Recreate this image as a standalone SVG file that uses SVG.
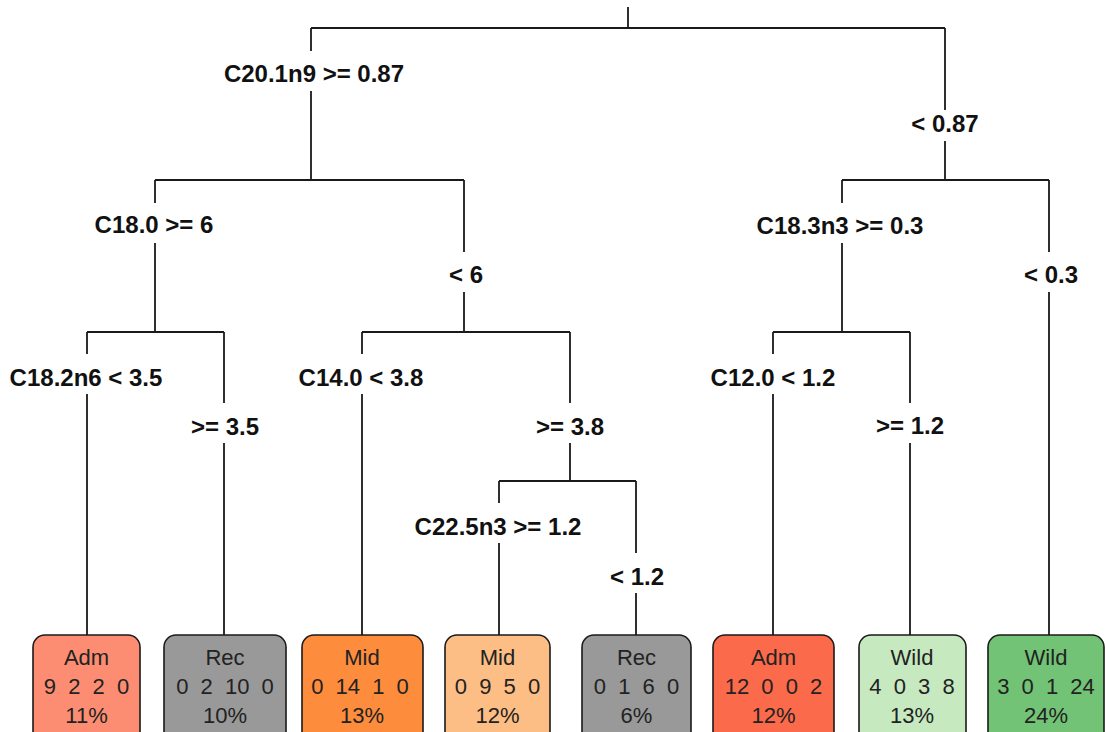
<svg xmlns="http://www.w3.org/2000/svg" width="1105" height="732" viewBox="0 0 1105 732">
<style>
.bg{fill:#ffffff}
.edge{stroke:#1a1a1a;stroke-width:1.8;fill:none}
.lab{font-family:"Liberation Sans",Arial,sans-serif;font-weight:bold;font-size:24px;fill:#111;text-anchor:middle}
.leaf rect{stroke:#1a1a1a;stroke-width:1.6}
.lt{font-family:"Liberation Sans",Arial,sans-serif;font-size:22px;fill:#222;text-anchor:middle}
.cnt{word-spacing:6px}
</style>
<rect class="bg" x="0" y="0" width="1105" height="732"/>
<g id="connectors">
<path class="edge" d="M628,7V28 M311,28H945
M311,28V51 M311,91V180 M945,28V110 M945,141V180
M155,180H464 M842,180H1049
M155,180V203 M155,243V332 M464,180V252 M464,292V332
M842,180V203 M842,243V332 M1049,180V252 M1049,292V635
M87,332H224 M362,332H570 M773,332H910
M87,332V354 M87,394V635 M224,332V403 M224,443V635
M362,332V354 M362,394V635 M570,332V403 M570,443V481
M773,332V354 M773,394V635 M910,332V403 M910,443V635
M499,481H636 M499,481V503 M499,543V635 M636,481V553 M636,593V635"/>
</g>
<g id="labels">
<text class="lab" x="314" y="82">C20.1n9 &gt;= 0.87</text>
<text class="lab" x="945" y="132">&lt; 0.87</text>
<text class="lab" x="154" y="233">C18.0 &gt;= 6</text>
<text class="lab" x="466" y="283">&lt; 6</text>
<text class="lab" x="840" y="234">C18.3n3 &gt;= 0.3</text>
<text class="lab" x="1051" y="283">&lt; 0.3</text>
<text class="lab" x="86" y="386">C18.2n6 &lt; 3.5</text>
<text class="lab" x="225" y="435">&gt;= 3.5</text>
<text class="lab" x="361" y="386">C14.0 &lt; 3.8</text>
<text class="lab" x="570" y="435">&gt;= 3.8</text>
<text class="lab" x="773" y="386">C12.0 &lt; 1.2</text>
<text class="lab" x="910" y="434">&gt;= 1.2</text>
<text class="lab" x="498" y="535">C22.5n3 &gt;= 1.2</text>
<text class="lab" x="637" y="585">&lt; 1.2</text>
</g>
<g id="leaf1" class="leaf">
<rect x="33" y="635" width="107" height="115" rx="12" fill="#FC8D72"/>
<text class="lt" x="86.5" y="665">Adm</text>
<text class="lt cnt" x="86.5" y="694">9 2 2 0</text>
<text class="lt" x="86.5" y="723">11%</text>
</g>
<g id="leaf2" class="leaf">
<rect x="164" y="635" width="122" height="115" rx="12" fill="#999999"/>
<text class="lt" x="225" y="665">Rec</text>
<text class="lt cnt" x="225" y="694">0 2 10 0</text>
<text class="lt" x="225" y="723">10%</text>
</g>
<g id="leaf3" class="leaf">
<rect x="302" y="635" width="121" height="115" rx="12" fill="#FD8D3C"/>
<text class="lt" x="362" y="665">Mid</text>
<text class="lt cnt" x="360" y="694">0 14 1 0</text>
<text class="lt" x="362" y="723">13%</text>
</g>
<g id="leaf4" class="leaf">
<rect x="445" y="635" width="105" height="115" rx="12" fill="#FDBE85"/>
<text class="lt" x="497.5" y="665">Mid</text>
<text class="lt cnt" x="497.5" y="694">0 9 5 0</text>
<text class="lt" x="497.5" y="723">12%</text>
</g>
<g id="leaf5" class="leaf">
<rect x="582" y="635" width="109" height="115" rx="12" fill="#999999"/>
<text class="lt" x="636.5" y="665">Rec</text>
<text class="lt cnt" x="636.5" y="694">0 1 6 0</text>
<text class="lt" x="636.5" y="723">6%</text>
</g>
<g id="leaf6" class="leaf">
<rect x="713" y="635" width="121" height="115" rx="12" fill="#FB6A4A"/>
<text class="lt" x="773.5" y="665">Adm</text>
<text class="lt cnt" x="773.5" y="694">12 0 0 2</text>
<text class="lt" x="773.5" y="723">12%</text>
</g>
<g id="leaf7" class="leaf">
<rect x="859" y="635" width="107" height="115" rx="12" fill="#C7E9C0"/>
<text class="lt" x="912" y="665">Wild</text>
<text class="lt cnt" x="912" y="694">4 0 3 8</text>
<text class="lt" x="912" y="723">13%</text>
</g>
<g id="leaf8" class="leaf">
<rect x="988" y="635" width="116" height="115" rx="12" fill="#72C375"/>
<text class="lt" x="1046" y="665">Wild</text>
<text class="lt cnt" x="1046" y="694">3 0 1 24</text>
<text class="lt" x="1046" y="723">24%</text>
</g>
</svg>
